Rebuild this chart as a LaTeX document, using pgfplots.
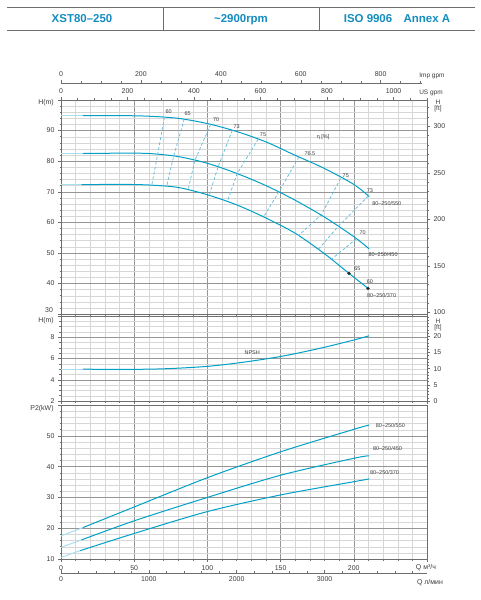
\documentclass[border=0pt]{standalone}
\usepackage{fontspec}
\setmainfont{Liberation Sans}
\usepackage{pgfplots}
\pgfplotsset{compat=1.18}

\definecolor{crv}{RGB}{0,160,198}
\definecolor{crvf}{RGB}{170,222,238}
\definecolor{dsh}{RGB}{95,188,220}
\definecolor{hdr}{RGB}{20,140,190}
\definecolor{gmin}{RGB}{215,215,215}
\definecolor{gmaj}{RGB}{150,150,150}
\definecolor{axc}{RGB}{110,110,110}
\definecolor{txt}{RGB}{60,60,60}

\tikzset{
  cv/.style={crv, line width=1bp, smooth, tension=0.5},
  cvf/.style={crvf, line width=1bp},
  ds/.style={dsh, line width=0.7bp, dash pattern=on 3bp off 2bp},
  lb/.style={font=\fontsize{5.5}{6}\selectfont, text=txt}
}
\pgfplotsset{
  base/.style={scale only axis, width=366bp, xmin=0, xmax=250,
    tick label style={font=\fontsize{7}{8}\selectfont, text=txt},
    /pgf/number format/assume math mode=true,
    grid=both, major grid style={gmaj, line width=0.35pt},
    minor grid style={gmin, line width=0.3pt},
    axis line style={axc, line width=0.7pt},
    tick align=outside, major tick length=3bp, minor tick length=1.5bp,
    tick style={axc, line width=0.4pt},
    xtick={0,50,...,250}, minor xtick={0,10,...,250},
    ytick pos=left, xtick pos=bottom},
  rt/.style={scale only axis, width=366bp, xmin=0, xmax=250,
    axis x line=none, axis y line*=right,
    tick label style={font=\fontsize{7}{8}\selectfont, text=txt},
    /pgf/number format/assume math mode=true,
    axis line style={axc, line width=0.7pt},
    tick align=outside, major tick length=3bp, minor tick length=1.5bp,
    tick style={axc, line width=0.4pt}},
  topx/.style={scale only axis, ymin=0, ymax=1, axis y line=none, axis x line*=top,
    tick label style={font=\fontsize{7}{8}\selectfont, text=txt},
    /pgf/number format/assume math mode=true,
    /pgf/number format/1000 sep={},
    axis line style={axc, line width=0.6pt},
    tick align=outside, major tick length=3bp, minor tick length=2bp,
    tick style={axc, line width=0.4pt}}
}

\begin{document}
\begin{tikzpicture}
\path[use as bounding box] (0,0) rectangle (481bp,-600bp);

% header
\draw[axc, line width=0.9bp] (7bp,-7.5bp) -- (475bp,-7.5bp);
\draw[axc, line width=0.9bp] (7bp,-30bp) -- (475bp,-30bp);
\draw[axc, line width=0.9bp] (163bp,-7.5bp) -- (163bp,-30bp);
\draw[axc, line width=0.9bp] (319bp,-7.5bp) -- (319bp,-30bp);
\node[text=hdr, font=\fontsize{11.5}{13}\selectfont\bfseries, anchor=base] at (82bp,-22.5bp) {XST80–250};
\node[text=hdr, font=\fontsize{11.5}{13}\selectfont\bfseries, anchor=base] at (241bp,-22.5bp) {\textasciitilde2900rpm};
\node[text=hdr, font=\fontsize{11.5}{13}\selectfont\bfseries, anchor=base] at (397bp,-22.5bp) {ISO 9906\hspace{1em}Annex A};

% ---------- Head panel ----------
\begin{axis}[base, at={(61bp,-314bp)}, anchor=south west, height=214bp,
  ymin=30, ymax=100, ytick={30,40,...,100}, yticklabels={{},40,50,60,70,80,90,{}},
  minor ytick={30,32,...,100}, xticklabels={}]
\addplot[cvf] coordinates {(0,94.9)(16,94.9)};
\addplot[cvf] coordinates {(0,82.5)(15,82.5)};
\addplot[cvf] coordinates {(0,72.3)(14,72.3)};
\addplot[cv] coordinates {(15,94.9)(40,94.9)(60,94.7)(80,94.0)(100,92.3)(120,89.7)(140,86.3)(160,81.9)(180,77.6)(200,72.4)(210.5,68.4)};
\addplot[cv] coordinates {(15,82.5)(40,82.6)(60,82.5)(80,81.5)(100,79.3)(120,76.0)(140,72.0)(160,67.2)(180,61.7)(200,55.3)(210.5,51.3)};
\addplot[cv] coordinates {(14,72.3)(40,72.4)(60,72.2)(80,71.4)(100,69.0)(120,65.7)(140,61.4)(160,56.4)(180,49.7)(196.7,43.3)(209.7,38.4)};
% iso-efficiency lines
\addplot[ds] coordinates {(70.6,94.3)(66.1,82.4)(62.0,72.2)};
\addplot[ds] coordinates {(84.2,93.8)(77.0,81.7)(72.2,71.9)};
\addplot[ds] coordinates {(102.2,92.0)(91.5,80.3)(86.9,70.9)};
\addplot[ds] coordinates {(117,90.1)(107.4,78.3)(101.2,68.8)};
\addplot[ds] coordinates {(134.7,87.2)(120.4,76.0)(113.6,66.8)};
\addplot[ds] coordinates {(162.5,81.4)(148.9,70.0)(138.6,61.9)};
\addplot[ds] coordinates {(190.9,74.3)(177.9,62.5)(162.1,55.6)};
\addplot[ds] coordinates {(210,68.6)(189.4,58.7)(175.7,51.1)};
\addplot[ds] coordinates {(201.8,54.6)(184.7,47.9)};
\addplot[only marks, mark=*, mark size=1.5bp, black!85] coordinates {(196.7,43.3)(209.7,38.4)};
\node[lb] at (axis cs:73.5,96.3) {60};
\node[lb] at (axis cs:86.5,95.4) {65};
\node[lb] at (axis cs:106,93.5) {70};
\node[lb] at (axis cs:120,91.3) {73};
\node[lb] at (axis cs:138,88.7) {75};
\node[lb] at (axis cs:170,82.6) {76.5};
\node[lb] at (axis cs:194.5,75.3) {75};
\node[lb] at (axis cs:211,70.4) {73};
\node[lb] at (axis cs:206,56.6) {70};
\node[lb] at (axis cs:202.5,45.0) {65};
\node[lb] at (axis cs:211,40.5) {60};
\node[lb] at (axis cs:179,87.9) {η [\%]};
\node[lb] at (axis cs:222.5,66.0) {80–250/550};
\node[lb] at (axis cs:220,49.5) {80–250/450};
\node[lb] at (axis cs:219,36.0) {80–250/370};
\end{axis}
\node[font=\fontsize{7}{8}\selectfont, text=txt, anchor=east] at (56.5bp,-310.5bp) {30};
\begin{axis}[rt, at={(61bp,-314bp)}, anchor=south west, height=214bp,
  ymin=98.425, ymax=328.08, ytick={100,150,...,300}, minor ytick={100,110,...,320}]
\end{axis}
\begin{axis}[topx, at={(61bp,-314bp)}, anchor=south west, width=366bp, height=214bp,
  xmin=0, xmax=1100.7, xtick={0,200,...,1000}, minor xtick={0,50,...,1100}]
\end{axis}
\begin{axis}[topx, at={(61bp,-83bp)}, anchor=north west, width=361bp, height=4bp,
  xmin=0, xmax=903.4, xtick={0,200,...,800}, minor xtick={0,50,...,900}]
\end{axis}

% ---------- NPSH panel ----------
\begin{axis}[base, at={(61bp,-401bp)}, anchor=south west, height=85bp,
  ymin=2, ymax=10, ytick={2,4,...,10}, yticklabels={2,4,6,8,{}},
  minor ytick={2,2.5,...,10}, xticklabels={}]
\addplot[cvf] coordinates {(0,5.0)(15,5.0)};
\addplot[cv] coordinates {(15,5.0)(40,4.97)(70,5.03)(100,5.26)(125,5.66)(150,6.19)(175,6.9)(200,7.74)(210.5,8.14)};
\node[lb] at (axis cs:130.6,6.6) {NPSH};
\end{axis}
\begin{axis}[rt, at={(61bp,-401bp)}, anchor=south west, height=85bp,
  ymin=0, ymax=26.247, ytick={0,5,...,20}, minor ytick={0,1,...,26}]
\end{axis}

% ---------- Power panel ----------
\begin{axis}[base, at={(61bp,-559bp)}, anchor=south west, height=154bp,
  ymin=10, ymax=60, ytick={10,20,...,60}, yticklabels={10,20,30,40,50,{}},
  minor ytick={10,12,...,60}, xticklabels={0,50,100,150,200,{}}]
\addplot[cvf] coordinates {(0,17.5)(15,20.2)};
\addplot[cvf] coordinates {(0,13.8)(14,16.2)};
\addplot[cvf] coordinates {(0,10.5)(13,12.7)};
\addplot[cv] coordinates {(15,20.2)(50,26.9)(100,36.4)(150,44.8)(200,52.1)(210.5,53.5)};
\addplot[cv] coordinates {(14,16.2)(50,22.4)(100,30.0)(150,37.2)(200,42.7)(210.5,43.5)};
\addplot[cv] coordinates {(13,12.7)(50,18.3)(100,25.4)(150,30.8)(200,35.1)(210.5,36.0)};
\node[lb] at (axis cs:225,53.2) {80–250/550};
\node[lb] at (axis cs:223,45.8) {80–250/450};
\node[lb] at (axis cs:221,38.2) {80–250/370};
\end{axis}
\begin{axis}[topx, axis x line*=bottom, at={(61bp,-573bp)}, anchor=south west, width=366bp, height=4bp,
  xmin=0, xmax=4166.7, xtick={0,1000,2000,3000}, minor xtick={0,200,...,4000},
  tick align=inside]
\end{axis}

% axis titles
\node[font=\fontsize{7}{8}\selectfont, text=txt] at (46bp,-103bp) {H(m)};
\node[font=\fontsize{7}{8}\selectfont, text=txt] at (46bp,-320.5bp) {H(m)};
\node[font=\fontsize{7}{8}\selectfont, text=txt] at (42bp,-409bp) {P2(kW)};
\node[font=\fontsize{6.5}{7}\selectfont, text=txt] at (438bp,-102bp) {H};
\node[font=\fontsize{6.5}{7}\selectfont, text=txt] at (438bp,-109bp) {[ft]};
\node[font=\fontsize{6.5}{7}\selectfont, text=txt] at (438bp,-321bp) {H};
\node[font=\fontsize{6.5}{7}\selectfont, text=txt] at (438bp,-328bp) {[ft]};
\node[font=\fontsize{6.5}{7}\selectfont, text=txt] at (432bp,-76bp) {Imp gpm};
\node[font=\fontsize{6.5}{7}\selectfont, text=txt] at (431bp,-93bp) {US gpm};
\node[font=\fontsize{7}{8}\selectfont, text=txt] at (426bp,-567.5bp) {Q м³/ч};
\node[font=\fontsize{7}{8}\selectfont, text=txt] at (430bp,-583bp) {Q л/мин};
\end{tikzpicture}
\end{document}
